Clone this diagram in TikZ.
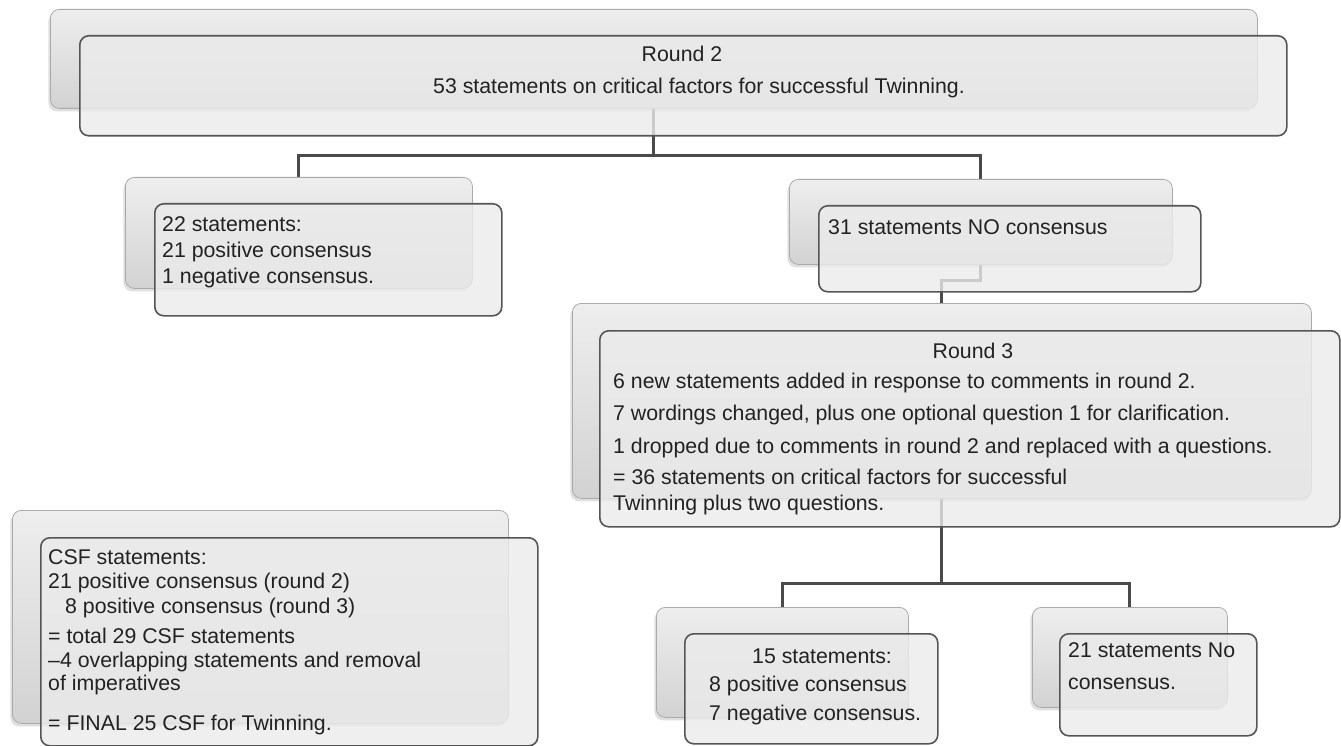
\documentclass[tikz,border=0pt]{standalone}
\usepackage{fontspec}
\setmainfont{Liberation Sans}
\usetikzlibrary{shadows,backgrounds}
\definecolor{frontfill}{HTML}{EBEBEC}
\definecolor{frontline}{HTML}{555555}
\definecolor{backtop}{HTML}{EEEEEE}
\definecolor{backbot}{HTML}{D2D2D2}
\definecolor{backline}{HTML}{AAAAAA}
\definecolor{connc}{HTML}{4A4A4A}
\definecolor{txtc}{HTML}{222222}
\tikzset{
  backbox/.style={rounded corners=9pt, top color=backtop, bottom color=backbot,
    draw=backline, line width=0.8pt, anchor=north west,
    drop shadow={shadow xshift=-2pt, shadow yshift=-3pt, opacity=0.25}},
  frontbox/.style={rounded corners=9pt, fill=frontfill, fill opacity=0.8,
    draw=frontline, line width=1.6pt, anchor=north west},
  conn/.style={draw=connc, line width=3pt},
  txt/.style={inner sep=0pt, align=left, anchor=north west, text=txtc},
  lbl/.style={inner sep=0pt, text=txtc, font=\fontsize{21.3}{25}\selectfont},
}
\begin{document}
\begin{tikzpicture}[x=1pt,y=-1pt]
\useasboundingbox (0,0) rectangle (1341,746);

% back boxes
\node[backbox, minimum width=1207pt, minimum height=99pt] (tb) at (50,9) {};
\node[backbox, minimum width=347pt, minimum height=111pt] (lb) at (125,177) {};
\node[backbox, minimum width=383pt, minimum height=85pt] (rb) at (789,179) {};
\node[backbox, minimum width=739pt, minimum height=195pt] (r3b) at (572,303) {};
\node[backbox, minimum width=252pt, minimum height=110pt] (blb) at (656,607) {};
\node[backbox, minimum width=195pt, minimum height=100pt] (brb) at (1032,607) {};
\node[backbox, minimum width=496pt, minimum height=213pt] (cb) at (12,510) {};

% connectors, behind every box
\begin{scope}[on background layer]
\draw[conn] (tb.south) -- ++(0,47) -| (lb.north);
\draw[conn] (tb.south) -- ++(0,47) -| (rb.north);
\draw[conn] (rb.south) -- ++(0,16) -| (r3b.north);
\draw[conn] (r3b.south) -- ++(0,85) -| (blb.north);
\draw[conn] (r3b.south) -- ++(0,85) -| (brb.north);
\end{scope}

% front boxes
\node[frontbox, minimum width=1207pt, minimum height=100pt] (tf) at (79,35) {};
\node[frontbox, minimum width=347pt, minimum height=112pt] (lf) at (154,203) {};
\node[frontbox, minimum width=382pt, minimum height=86pt] (rf) at (818,205) {};
\node[frontbox, minimum width=740pt, minimum height=196pt] (r3f) at (599,330) {};
\node[frontbox, minimum width=253pt, minimum height=110pt] (blf) at (684,633) {};
\node[frontbox, minimum width=197pt, minimum height=102pt] (brf) at (1059,633) {};
\node[frontbox, minimum width=497pt, minimum height=208pt] (cf) at (40,537) {};

% texts
\node[lbl, anchor=base] (t2a) at (682,62) {Round 2};
\node[lbl, anchor=base] (t2b) at (699,94) {53 statements on critical factors for successful Twinning.};

\node[txt, font=\fontsize{21.3}{26}\selectfont] (ltxt) at (162,215)
  {\rule{0pt}{16pt}22 statements:\\21 positive consensus\\1 negative consensus.};

\node[lbl, anchor=base west] (rtxt) at (828,234) {31 statements NO consensus};

\node[lbl, anchor=base] (r3a) at (973,358) {Round 3};
\node[txt, font=\fontsize{21.3}{25}\selectfont] (r3txt) at (613,372)
  {\rule{0pt}{16pt}6 new statements added in response to comments in round 2.\\[7pt]
   7 wordings changed, plus one optional question 1 for clarification.\\[8pt]
   1 dropped due to comments in round 2 and replaced with a questions.\\[6pt]
   = 36 statements on critical factors for successful\\[1pt]
   Twinning plus two questions.};

\node[txt, font=\fontsize{21.3}{28.5}\selectfont] (bltxt) at (709,647)
  {\rule{0pt}{16pt}\hspace*{43pt}15 statements:\\8 positive consensus\\7 negative consensus.};

\node[txt, font=\fontsize{21.3}{32}\selectfont] (brtxt) at (1068,641)
  {\rule{0pt}{16pt}21 statements No\\consensus.};

\node[txt, font=\fontsize{21.3}{24}\selectfont] (ctxt) at (48,548)
  {\rule{0pt}{16pt}CSF statements:\\
   21 positive consensus (round 2)\\[1pt]
   \hspace*{17pt}8 positive consensus (round 3)\\[6pt]
   = total 29 CSF statements\\
   \textendash4 overlapping statements and removal\\[-1pt]
   of imperatives\\[16pt]
   = FINAL 25 CSF for Twinning.};
\end{tikzpicture}
\end{document}
